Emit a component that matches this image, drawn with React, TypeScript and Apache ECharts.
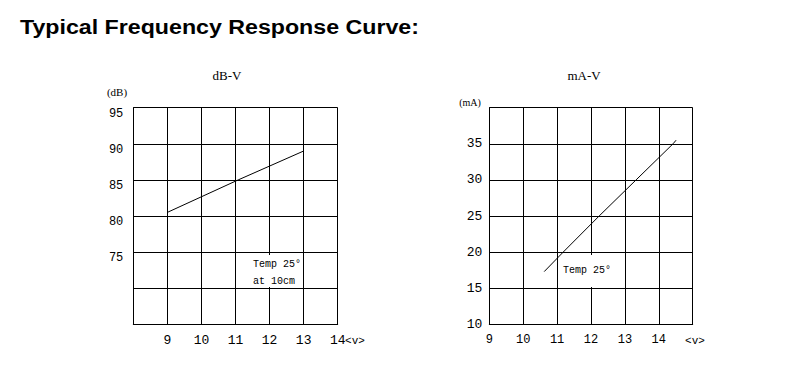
import React, { useEffect, useRef } from "react";
import * as echarts from "echarts";

const pageTitle = "Typical Frequency Response Curve:";

// dB–V chart
const dbTitle = "dB-V";
const dbUnit = "(dB)";
const dbVolts = [9, 11.08, 13];
const dbValues = [80.5, 85, 89];
const dbYTicks = [75, 80, 85, 90, 95];
const dbXTicks = [9, 10, 11, 12, 13, 14];

// mA–V chart
const maTitle = "mA-V";
const maUnit = "(mA)";
const maVolts = [10.62, 11.18, 12.24, 13.33, 14.42, 14.51];
const maValues = [17.3, 20, 25, 30, 35, 35.5];
const maYTicks = [10, 15, 20, 25, 30, 35];
const maXTicks = [9, 10, 11, 12, 13, 14];

const voltUnit = "<v>";
const noteTemp = "Temp 25°";
const noteDist = "at 10cm";

const MONO = "'Liberation Mono', 'DejaVu Sans Mono', monospace";
const SERIF = "'Liberation Serif', 'DejaVu Serif', serif";

export default function App() {
  const ref = useRef<HTMLDivElement>(null);
  useEffect(() => {
    document.body.style.margin = "0";
    const chart = echarts.init(ref.current!, null, { renderer: "svg" });
    const line = { color: "#000", width: 1 };
    const xAxisBase = (min: number, max: number, ticks: number[], size: number) => ({
      type: "value" as const,
      min,
      max,
      interval: 1,
      axisLine: { show: true, lineStyle: line },
      axisTick: { show: false },
      splitLine: { show: true, lineStyle: line },
      axisLabel: {
        color: "#000",
        fontFamily: MONO,
        fontSize: size,
        margin: 10,
        showMinLabel: true,
        showMaxLabel: true,
        formatter: (v: number) => (ticks.includes(v) ? String(v) : ""),
      },
    });
    chart.setOption({
      animation: false,
      grid: [
        { left: 133.3, top: 107.7, width: 204.4, height: 216.6 },
        { left: 489.3, top: 107.7, width: 203.4, height: 216.6 },
      ],
      xAxis: [
        { ...xAxisBase(8, 14, dbXTicks, 13), gridIndex: 0 },
        { ...xAxisBase(9, 15, maXTicks, 12), gridIndex: 1 },
      ],
      yAxis: [
        {
          type: "value",
          gridIndex: 0,
          min: 65,
          max: 95,
          interval: 5,
          axisLine: { show: true, lineStyle: line },
          axisTick: { show: false },
          splitLine: { show: true, lineStyle: line },
          axisLabel: {
            color: "#000",
            fontFamily: MONO,
            fontSize: 12,
            margin: 10,
            verticalAlign: "top",
            showMaxLabel: true,
            formatter: (v: number) => (dbYTicks.includes(v) ? String(v) : ""),
          },
        },
        {
          type: "value",
          gridIndex: 1,
          min: 10,
          max: 40,
          interval: 5,
          axisLine: { show: true, lineStyle: line },
          axisTick: { show: false },
          splitLine: { show: true, lineStyle: line },
          axisLabel: {
            color: "#000",
            fontFamily: MONO,
            fontSize: 13,
            margin: 7,
            showMinLabel: true,
            formatter: (v: number) => (maYTicks.includes(v) ? String(v) : ""),
          },
        },
      ],
      series: [
        {
          type: "line",
          xAxisIndex: 0,
          yAxisIndex: 0,
          data: dbVolts.map((v, i) => [v, dbValues[i]]),
          showSymbol: false,
          lineStyle: { color: "#000", width: 1 },
          z: 5,
        },
        {
          type: "line",
          xAxisIndex: 1,
          yAxisIndex: 1,
          data: maVolts.map((v, i) => [v, maValues[i]]),
          showSymbol: false,
          lineStyle: { color: "#000", width: 1 },
          z: 5,
        },
      ],
      graphic: [
        {
          type: "text",
          x: 20,
          y: 17,
          scaleX: 1.16,
          style: { text: pageTitle, font: "bold 20px 'Liberation Sans', Arial, sans-serif", fill: "#000" },
        },
        {
          type: "text",
          x: 227,
          y: 75,
          style: { text: dbTitle, font: `13px ${SERIF}`, fill: "#000", textAlign: "center", textVerticalAlign: "middle" },
        },
        {
          type: "text",
          x: 584,
          y: 75,
          style: { text: maTitle, font: `13px ${SERIF}`, fill: "#000", textAlign: "center", textVerticalAlign: "middle" },
        },
        {
          type: "text",
          x: 117,
          y: 92,
          style: { text: dbUnit, font: `11px ${SERIF}`, fill: "#000", textAlign: "center", textVerticalAlign: "middle" },
        },
        {
          type: "text",
          x: 470,
          y: 102,
          style: { text: maUnit, font: `10px ${SERIF}`, fill: "#000", textAlign: "center", textVerticalAlign: "middle" },
        },
        {
          type: "text",
          x: 355,
          y: 341,
          style: { text: voltUnit, font: `11px ${MONO}`, fill: "#000", textAlign: "center", textVerticalAlign: "middle" },
        },
        {
          type: "text",
          x: 695,
          y: 341,
          style: { text: voltUnit, font: `11px ${MONO}`, fill: "#000", textAlign: "center", textVerticalAlign: "middle" },
        },
        {
          type: "rect",
          shape: { x: 250, y: 255, width: 52, height: 32 },
          style: { fill: "#fff" },
          z: 10,
        },
        {
          type: "text",
          x: 253,
          y: 264,
          z: 11,
          style: { text: noteTemp, font: `10px ${MONO}`, fill: "#000", textVerticalAlign: "middle" },
        },
        {
          type: "text",
          x: 253,
          y: 281,
          z: 11,
          style: { text: noteDist, font: `10px ${MONO}`, fill: "#000", textVerticalAlign: "middle" },
        },
        {
          type: "rect",
          shape: { x: 561, y: 255, width: 46, height: 32 },
          style: { fill: "#fff" },
          z: 10,
        },
        {
          type: "text",
          x: 563,
          y: 270,
          z: 11,
          style: { text: noteTemp, font: `10px ${MONO}`, fill: "#000", textVerticalAlign: "middle" },
        },
      ],
    });
    return () => chart.dispose();
  }, []);
  return <div ref={ref} style={{ width: 811, height: 380 }} />;
}
